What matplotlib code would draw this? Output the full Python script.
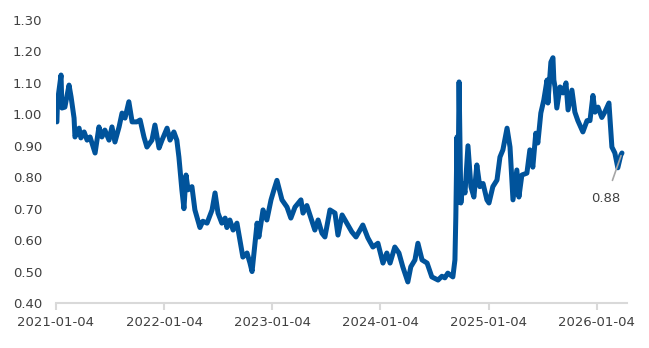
import numpy as np
import pandas as pd
import matplotlib
matplotlib.use('Agg')
import matplotlib.pyplot as plt
import matplotlib.dates as mdates

# values (days counted from 2021-01-04)
start = '2021-01-04'
days = [0, 3, 5, 17, 20, 30, 44, 51, 61, 64, 78, 84, 95, 105, 115, 132, 145, 155, 165, 179,
        189, 199, 213, 223, 233, 246, 257, 273, 284, 297, 307, 324, 334, 348, 358, 375, 385, 398,
        408, 415, 425, 432, 439, 446, 459, 469, 486, 496, 510, 527, 537, 547, 560, 571, 577, 587,
        598, 611, 621, 631, 645, 655, 662, 672, 679, 685, 699, 712, 726, 736, 746, 763, 780, 793,
        807, 827, 834, 847, 861, 874, 885, 898, 908, 925, 942, 952, 966, 982, 999, 1013, 1036,
        1053, 1070, 1087, 1104, 1117, 1128, 1144, 1158, 1171, 1188, 1198, 1212, 1222, 1236, 1253,
        1269, 1290, 1303, 1313, 1323, 1340, 1347, 1350, 1354, 1357, 1361, 1367, 1374, 1381, 1391,
        1401, 1411, 1421, 1431, 1442, 1455, 1462, 1475, 1489, 1499, 1509, 1523, 1533, 1543, 1556,
        1563, 1573, 1590, 1600, 1610, 1620, 1627, 1637, 1647, 1658, 1661, 1671, 1678, 1681, 1685,
        1691, 1702, 1712, 1722, 1729, 1742, 1752, 1762, 1779, 1793, 1803, 1813, 1820, 1830, 1843,
        1853, 1867, 1877, 1887, 1897, 1907, 1911]
values = [0.98, 0.976, 1.04, 1.125, 1.02, 1.023, 1.093, 1.055, 0.988, 0.928, 0.956, 0.925,
          0.944, 0.918, 0.928, 0.877, 0.96, 0.928, 0.95, 0.918, 0.96, 0.912, 0.96, 1.004, 0.988,
          1.04, 0.976, 0.976, 0.982, 0.928, 0.896, 0.918, 0.966, 0.893, 0.918, 0.956, 0.918,
          0.944, 0.918, 0.864, 0.76, 0.70, 0.807, 0.76, 0.77, 0.696, 0.64, 0.66, 0.654, 0.696,
          0.75, 0.686, 0.654, 0.67, 0.64, 0.664, 0.632, 0.654, 0.60, 0.546, 0.559, 0.527, 0.50,
          0.59, 0.654, 0.61, 0.696, 0.664, 0.728, 0.76, 0.79, 0.728, 0.705, 0.67, 0.705, 0.728,
          0.686, 0.71, 0.67, 0.632, 0.664, 0.622, 0.61, 0.696, 0.686, 0.616, 0.68, 0.654, 0.626,
          0.61, 0.648, 0.607, 0.578, 0.59, 0.527, 0.559, 0.527, 0.578, 0.559, 0.515, 0.467,
          0.515, 0.537, 0.59, 0.537, 0.527, 0.483, 0.473, 0.485, 0.48, 0.495, 0.483, 0.537,
          0.673, 0.928, 0.72, 1.103, 0.718, 0.78, 0.75, 0.90, 0.77, 0.737, 0.839, 0.77, 0.78,
          0.728, 0.718, 0.77, 0.791, 0.864, 0.887, 0.956, 0.896, 0.728, 0.823, 0.737, 0.807,
          0.813, 0.887, 0.832, 0.94, 0.909, 1.004, 1.045, 1.109, 1.036, 1.166, 1.18, 1.109,
          1.087, 1.02, 1.087, 1.068, 1.10, 1.014, 1.077, 1.007, 0.98, 0.944, 0.98, 0.98, 1.06,
          1.007, 1.023, 0.99, 1.007, 1.036, 0.896, 0.877, 0.83, 0.87, 0.877]
last_label = '0.88'
yticks = [0.40, 0.50, 0.60, 0.70, 0.80, 0.90, 1.00, 1.10, 1.20, 1.30]
xtick_dates = ['2021-01-04', '2022-01-04', '2023-01-04', '2024-01-04', '2025-01-04', '2026-01-04']

x = pd.Timestamp(start) + pd.to_timedelta(days, unit='D')
line_color = '#00539b'
text_color = '#404040'

fig = plt.figure(figsize=(6.49, 3.48), dpi=100)
ax = fig.add_axes([56/649, 45/348, (627-56)/649, (303-20)/348])

ax.plot(x, values, color=line_color, lw=3.6, solid_joinstyle='round', solid_capstyle='round')

ax.set_xlim(pd.Timestamp(start), pd.Timestamp(start) + pd.Timedelta(days=1928))
ax.set_ylim(0.40, 1.30)
ax.set_yticks(yticks)
ax.set_yticklabels(['%.2f' % v for v in yticks])
ax.set_xticks(pd.to_datetime(xtick_dates))
ax.xaxis.set_major_formatter(mdates.DateFormatter('%Y-%m-%d'))

for s in ['top', 'right', 'left']:
    ax.spines[s].set_visible(False)
ax.spines['bottom'].set_color('#d9d9d9')
ax.spines['bottom'].set_linewidth(1.5)
ax.spines['bottom'].set_zorder(0)
ax.tick_params(axis='x', colors='#d9d9d9', width=1.5, length=5, labelcolor=text_color,
               labelsize=9.5, pad=4)
ax.tick_params(axis='y', length=0, labelcolor=text_color, labelsize=9.5, pad=10)

ax.annotate(last_label, xy=(x[-1], values[-1]), xytext=(-11.5, -33), textcoords='offset points',
            ha='center', va='center', fontsize=9.5, color=text_color,
            arrowprops=dict(arrowstyle='-', color='#a6a6a6', lw=1.2, shrinkA=7, shrinkB=2))

fig.savefig('out.png', dpi=100)
